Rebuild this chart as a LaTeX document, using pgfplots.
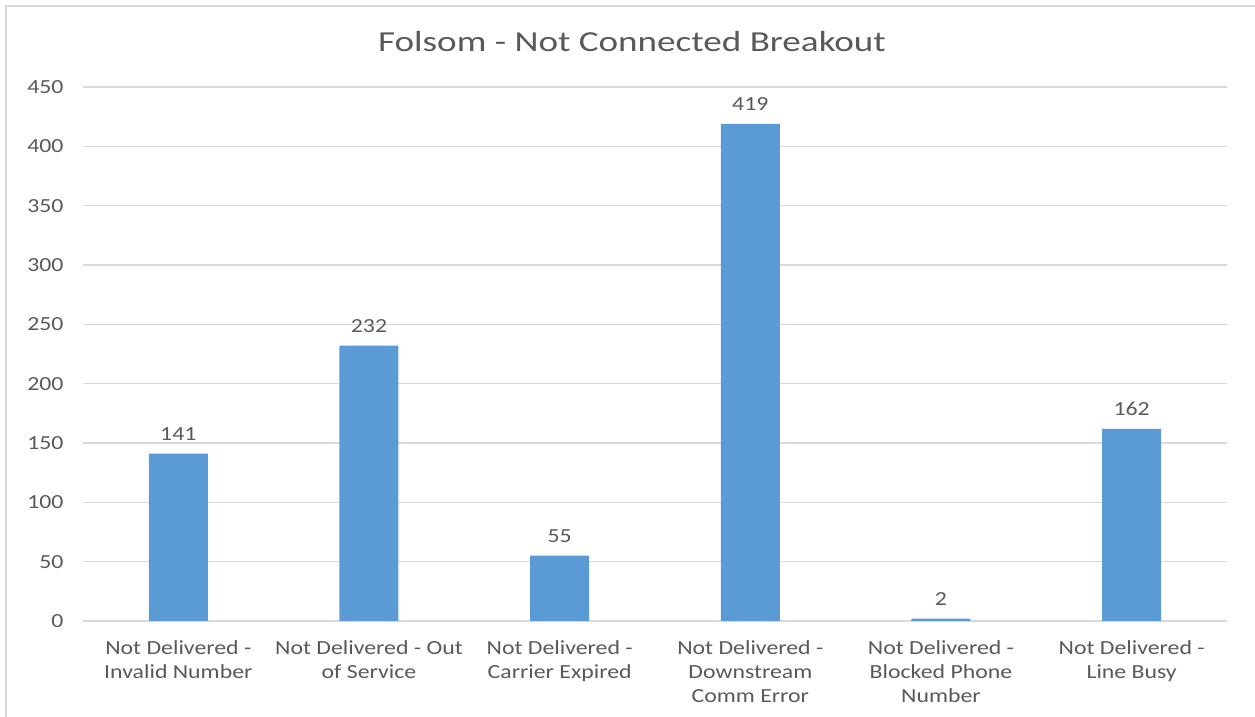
\documentclass[border=0pt]{standalone}
\usepackage{pgfplots}
\pgfplotsset{compat=1.18}
\usepackage{fontspec}
\setmainfont[FakeStretch=1.19]{Carlito}
\newfontfamily\titlefont[FakeStretch=1.28]{Carlito}
\definecolor{barblue}{HTML}{5B9BD5}
\definecolor{gridgray}{HTML}{D9D9D9}
\definecolor{txtgray}{HTML}{595959}
\begin{document}
\begin{tikzpicture}[x=1bp,y=1bp]
\path[use as bounding box] (0,0) rectangle (1255,717);
\draw[gridgray, line width=1.5bp] (6,-20) -- (6,711) -- (1275,711);
\node[anchor=base, text=txtgray, font=\titlefont\fontsize{29bp}{35bp}\selectfont] at (632,665) {Folsom - Not Connected Breakout};
\begin{axis}[
  at={(83bp,96bp)}, anchor=south west,
  scale only axis, width=1144bp, height=534bp,
  xmin=-0.5, xmax=5.5, ymin=0, ymax=450,
  ytick={0,50,...,450},
  xtick={0,1,2,3,4,5},
  xticklabels={{Not Delivered -\\Invalid Number},{Not Delivered - Out\\of Service},{Not Delivered -\\Carrier Expired},{Not Delivered -\\Downstream\\Comm Error},{Not Delivered -\\Blocked Phone\\Number},{Not Delivered -\\Line Busy}},
  /pgf/number format/assume math mode=true,
  ymajorgrids, grid style={gridgray, line width=1.2bp},
  axis line style={draw=none}, major tick style={draw=none},
  ticklabel style={font=\fontsize{20bp}{24bp}\selectfont, text=txtgray},
  xticklabel style={align=center, anchor=north, yshift=-12bp},
  yticklabel style={xshift=-16bp},
  ybar, bar width=59bp,
  nodes near coords,
  every node near coord/.append style={font=\fontsize{20bp}{24bp}\selectfont, text=txtgray, anchor=base, yshift=13bp, inner sep=0pt},
]
\addplot[fill=barblue, draw=none] coordinates {(0,141) (1,232) (2,55) (3,419) (4,2) (5,162)};
\end{axis}
\end{tikzpicture}
\end{document}
